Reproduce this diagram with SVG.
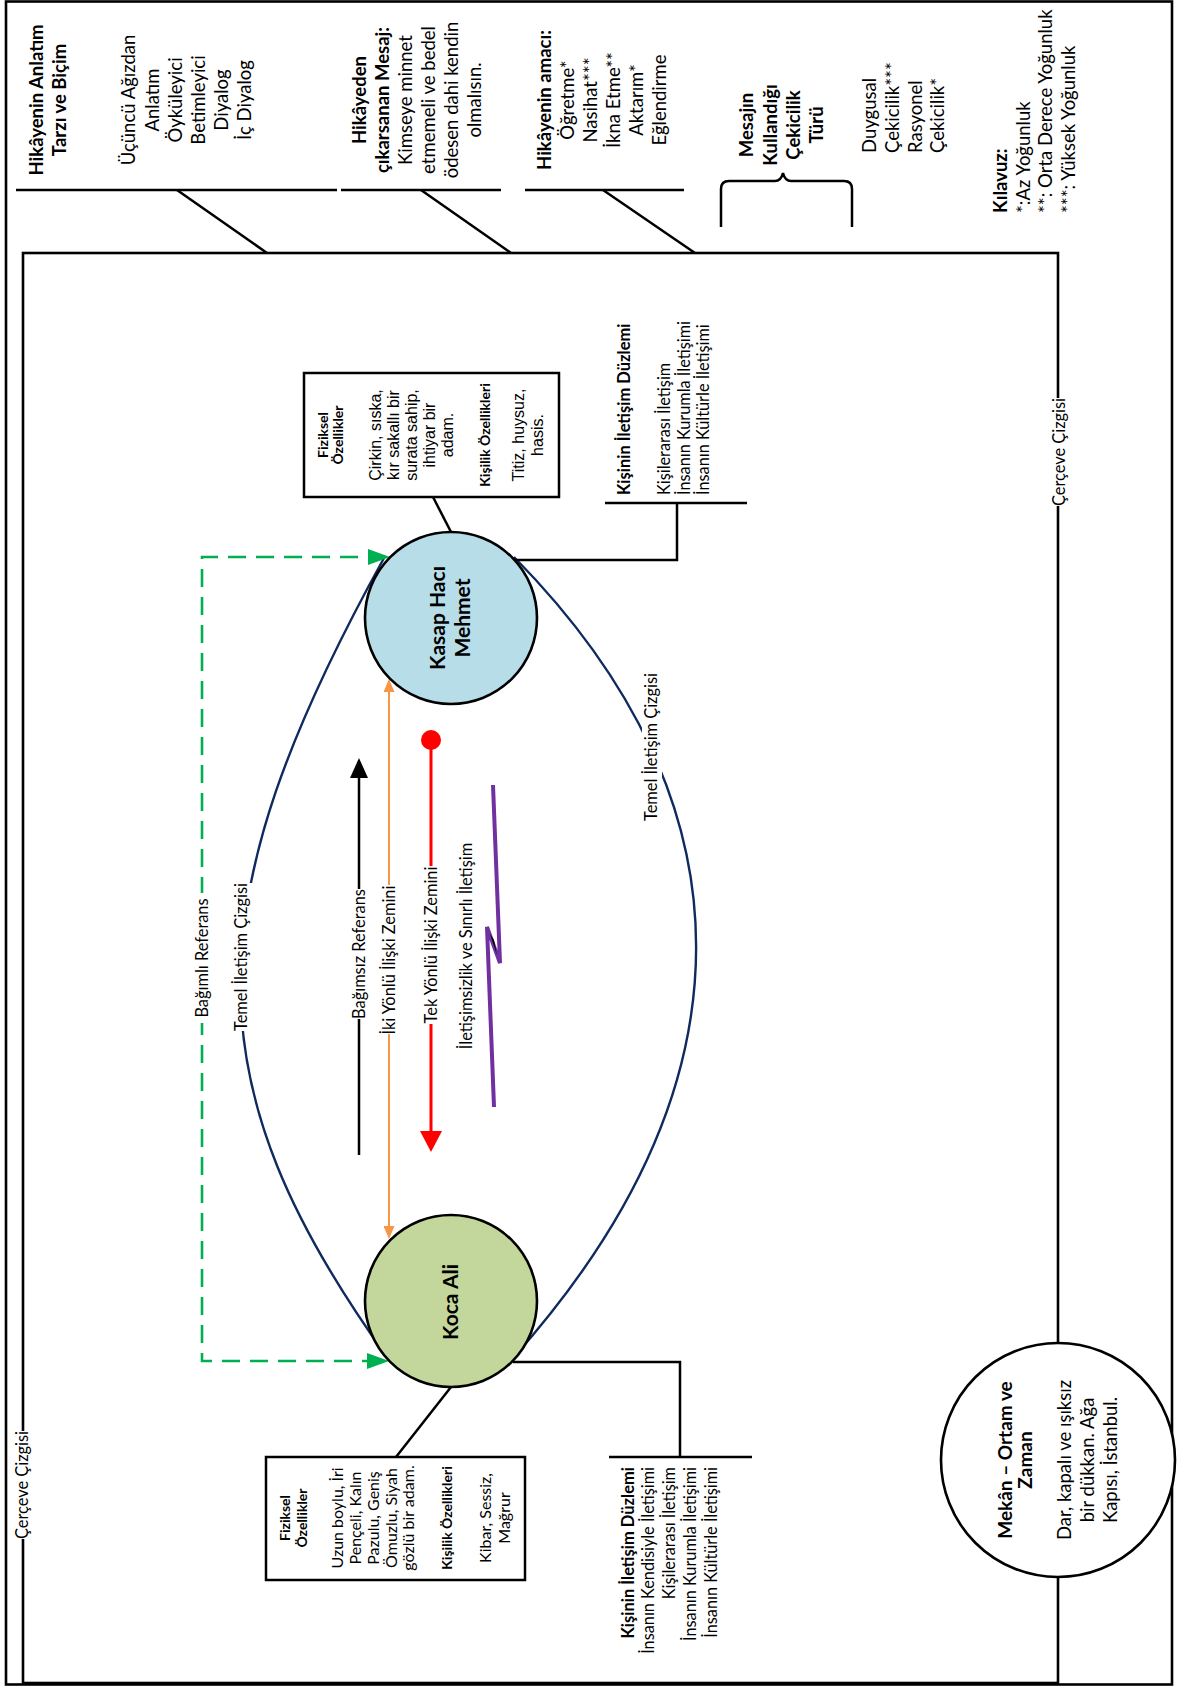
<svg xmlns="http://www.w3.org/2000/svg" width="1177" height="1686" viewBox="0 0 1177 1686">
  <style>
    text { font-family: Lato, "Liberation Sans", sans-serif; fill: #000; }
    .hb { font-size: 18.5px; font-weight: bold; }
    .hr { font-size: 18.5px; }
    .lbl { font-size: 16.4px; }
    .bh { font-size: 14px; font-weight: bold; }
    .ba { font-family: "Liberation Sans", Arial, sans-serif; font-size: 16px; }
    .bc { font-size: 16px; }
    .ph { font-size: 16.5px; font-weight: bold; }
    .pr { font-size: 16.3px; }
    .node-t { font-size: 21px; font-weight: bold; }
    .mh { font-size: 19px; font-weight: bold; }
    .line { fill: none; stroke: #000; stroke-width: 2.5; }
    .frame { fill: none; stroke: #000; stroke-width: 2.6; }
    .arc { fill: none; stroke: #0F2A5F; stroke-width: 2.4; }
    .knock { fill: #fff; }
    .circle { stroke: #000; stroke-width: 2.6; }
  </style>
  <defs>
    <marker id="headBlack" viewBox="0 0 20 18" refX="16" refY="9" markerWidth="20" markerHeight="18" markerUnits="userSpaceOnUse" orient="auto">
      <path d="M0,0 L20,9 L0,18 z" fill="#000"/>
    </marker>
    <marker id="headOrange" viewBox="0 0 13 11" refX="10" refY="5.5" markerWidth="13" markerHeight="11" markerUnits="userSpaceOnUse" orient="auto-start-reverse">
      <path d="M0,0 L13,5.5 L0,11 z" fill="#F79646"/>
    </marker>
    <marker id="headRed" viewBox="0 0 21 22" refX="17" refY="11" markerWidth="21" markerHeight="22" markerUnits="userSpaceOnUse" orient="auto">
      <path d="M0,0 L21,11 L0,22 z" fill="#FF0000"/>
    </marker>
    <marker id="dotRed" viewBox="0 0 22 22" refX="11" refY="11" markerWidth="22" markerHeight="22" markerUnits="userSpaceOnUse" orient="auto">
      <circle cx="11" cy="11" r="10" fill="#FF0000"/>
    </marker>
    <marker id="headGreen" viewBox="0 0 22 16" refX="18" refY="8" markerWidth="22" markerHeight="16" markerUnits="userSpaceOnUse" orient="auto-start-reverse">
      <path d="M0,0 L22,8 L0,16 z" fill="#00B050"/>
    </marker>
  </defs>

  <rect width="1177" height="1686" fill="#fff"/>

  <!-- page border and story frame -->
  <g id="frames">
    <rect class="frame" x="6" y="1.5" width="1166" height="1683"/>
    <rect class="frame" x="23" y="253" width="1035" height="1430"/>
  </g>

  <!-- header ribs feeding into the frame -->
  <g id="header-ribs">
    <path class="line" d="M16 190 H337 M341 190 H501 M525 190 H684"/>
    <path class="line" d="M177 190 L267 253 M421 190 L511 253 M603 190 L695 253"/>
    <path class="line" d="M721 227 V189 Q721 181 729 181 H775 Q781 181 783 173 Q785 181 791 181 H844 Q852 181 852 189 V227"/>
  </g>

  <!-- header texts -->
  <g id="header-style">
    <text class="hb" text-anchor="middle" transform="translate(43,100) rotate(-90)"><tspan x="0" y="0">Hikâyenin Anlatım</tspan><tspan x="0" y="23">Tarzı ve Biçim</tspan></text>
    <text class="hr" text-anchor="middle" transform="translate(135,100) rotate(-90)"><tspan x="0" y="0">Üçüncü Ağızdan</tspan><tspan x="0" y="23.5">Anlatım</tspan><tspan x="0" y="47">Öyküleyici</tspan><tspan x="0" y="70">Betimleyici</tspan><tspan x="0" y="93">Diyalog</tspan><tspan x="0" y="116">İç Diyalog</tspan></text>
  </g>
  <g id="header-message">
    <text class="hr" text-anchor="middle" transform="translate(366,100) rotate(-90)"><tspan x="0" y="0" font-weight="bold">Hikâyeden</tspan><tspan x="0" y="23" font-weight="bold">çıkarsanan Mesaj:</tspan><tspan x="0" y="45.5">Kimseye minnet</tspan><tspan x="0" y="68.5">etmemeli ve bedel</tspan><tspan x="0" y="91.5">ödesen dahi kendin</tspan><tspan x="0" y="114.5">olmalısın.</tspan></text>
  </g>
  <g id="header-purpose">
    <text class="hr" text-anchor="middle" transform="translate(551,100) rotate(-90)"><tspan x="0" y="0" font-weight="bold">Hikâyenin amacı:</tspan><tspan x="0" y="23">Öğretme*</tspan><tspan x="0" y="46">Nasihat***</tspan><tspan x="0" y="69">İkna Etme**</tspan><tspan x="0" y="92">Aktarım*</tspan><tspan x="0" y="115">Eğlendirme</tspan></text>
  </g>
  <g id="header-appeal">
    <text class="hb" text-anchor="middle" transform="translate(753,125) rotate(-90)"><tspan x="0" y="0">Mesajın</tspan><tspan x="0" y="23.5">Kullandığı</tspan><tspan x="0" y="46.5">Çekicilik</tspan><tspan x="0" y="69.5">Türü</tspan></text>
    <text class="hr" transform="translate(876,153) rotate(-90)"><tspan x="0" y="0">Duygusal</tspan><tspan x="0" y="22.5">Çekicilik***</tspan><tspan x="0" y="45.5">Rasyonel</tspan><tspan x="0" y="68">Çekicilik*</tspan></text>
  </g>
  <g id="legend">
    <text class="hr" transform="translate(1007,213) rotate(-90)"><tspan x="0" y="0" font-weight="bold">Kılavuz:</tspan><tspan x="0" y="22.5">*:Az Yoğunluk</tspan><tspan x="0" y="45">**: Orta Derece Yoğunluk</tspan><tspan x="0" y="68">***: Yüksek Yoğunluk</tspan></text>
  </g>

  <!-- connectors and their labels -->
  <g id="connectors">
    <path class="arc" d="M384 558 C192 905 192 1085 387 1357"/>
    <path class="arc" d="M514 557 C757 804 757 1084 513 1358"/>

    <path d="M386 557 H202 V1361 H385" fill="none" stroke="#00B050" stroke-width="2.6" stroke-dasharray="18 10" marker-start="url(#headGreen)" marker-end="url(#headGreen)"/>
    <path d="M359 1155 V762" fill="none" stroke="#000" stroke-width="2.5" marker-end="url(#headBlack)"/>
    <path d="M389 682 V1236" fill="none" stroke="#F79646" stroke-width="2" marker-start="url(#headOrange)" marker-end="url(#headOrange)"/>
    <path d="M431 740 V1148" fill="none" stroke="#FF0000" stroke-width="3" marker-start="url(#dotRed)" marker-end="url(#headRed)"/>
    <polyline points="493,785 500,963 487,927 494,1107" fill="none" stroke="#7030A0" stroke-width="4" stroke-linejoin="miter"/>
    <polygon points="490,934 497,955 494,940" fill="#000"/>

    <path class="line" d="M433 497 L451 532"/>
    <path class="line" d="M513 560 H677 V503 M605 503 H747"/>
    <path class="line" d="M396 1457 L451 1387"/>
    <path class="line" d="M513 1362 H680 V1457 M609 1457 H752"/>

    <rect class="knock" x="194" y="893" width="16" height="130"/>
    <rect class="knock" x="234" y="883" width="18" height="148"/>
    <rect class="knock" x="351" y="889" width="16" height="130"/>
    <rect class="knock" x="381" y="885" width="16" height="149"/>
    <rect class="knock" x="423" y="866" width="16" height="158"/>
    <rect class="knock" x="642" y="673" width="20" height="148"/>
    <rect class="knock" x="15" y="1431" width="16" height="108"/>
    <rect class="knock" x="1051" y="398" width="16" height="108"/>

    <text class="lbl" text-anchor="middle" transform="translate(208,958) rotate(-90)">Bağımlı Referans</text>
    <text class="lbl" text-anchor="middle" transform="translate(247,957) rotate(-90)">Temel İletişim Çizgisi</text>
    <text class="lbl" text-anchor="middle" transform="translate(365,954) rotate(-90)">Bağımsız Referans</text>
    <text class="lbl" text-anchor="middle" transform="translate(395,960) rotate(-90)">İki Yönlü İlişki Zemini</text>
    <text class="lbl" text-anchor="middle" transform="translate(437,945) rotate(-90)">Tek Yönlü İlişki Zemini</text>
    <text class="lbl" text-anchor="middle" transform="translate(472,946) rotate(-90)">İletişimsizlik ve Sınırlı İletişim</text>
    <text class="lbl" text-anchor="middle" transform="translate(657,747) rotate(-90)">Temel İletişim Çizgisi</text>
    <text class="lbl" text-anchor="middle" transform="translate(28,1485) rotate(-90)">Çerçeve Çizgisi</text>
    <text class="lbl" text-anchor="middle" transform="translate(1065,452) rotate(-90)">Çerçeve Çizgisi</text>
  </g>

  <!-- Kasap Hacı Mehmet -->
  <g id="node-kasap">
    <circle class="circle" cx="451" cy="618" r="86" fill="#B7DDE8"/>
    <text class="node-t" text-anchor="middle" transform="translate(445,618) rotate(-90)"><tspan x="0" y="0">Kasap Hacı</tspan><tspan x="0" y="25">Mehmet</tspan></text>
  </g>
  <g id="box-kasap">
    <rect class="line" x="304" y="373" width="255" height="124" fill="#fff"/>
    <text text-anchor="middle" transform="translate(328,435) rotate(-90)"><tspan class="bh" x="0" y="0">Fiziksel</tspan><tspan class="bh" x="0" y="15">Özellikler</tspan><tspan class="ba" x="0" y="53">Çirkin, sıska,</tspan><tspan class="ba" x="0" y="71">kır sakallı bir</tspan><tspan class="ba" x="0" y="89">surata sahip,</tspan><tspan class="ba" x="0" y="107">ihtiyar bir</tspan><tspan class="ba" x="0" y="125">adam.</tspan><tspan class="bh" x="0" y="162">Kişilik Özellikleri</tspan><tspan class="ba" x="0" y="196">Titiz, huysuz,</tspan><tspan class="ba" x="0" y="215">hasis.</tspan></text>
  </g>
  <g id="plane-kasap">
    <text transform="translate(630,495) rotate(-90)"><tspan class="ph" x="0" y="0">Kişinin İletişim Düzlemi</tspan><tspan class="pr" x="0" y="40">Kişilerarası İletişim</tspan><tspan class="pr" x="0" y="60">İnsanın Kurumla İletişimi</tspan><tspan class="pr" x="0" y="79">İnsanın Kültürle İletişimi</tspan></text>
  </g>

  <!-- Koca Ali -->
  <g id="node-koca">
    <circle class="circle" cx="451" cy="1301" r="86" fill="#C3D69B"/>
    <text class="node-t" text-anchor="middle" transform="translate(458,1302) rotate(-90)">Koca Ali</text>
  </g>
  <g id="box-koca">
    <rect class="line" x="266" y="1457" width="259" height="123" fill="#fff"/>
    <text text-anchor="middle" transform="translate(290,1518) rotate(-90)"><tspan class="bh" x="0" y="0">Fiziksel</tspan><tspan class="bh" x="0" y="17">Özellikler</tspan><tspan class="bc" x="0" y="53">Uzun boylu, İri</tspan><tspan class="bc" x="0" y="71">Pençeli, Kalın</tspan><tspan class="bc" x="0" y="89">Pazulu, Geniş</tspan><tspan class="bc" x="0" y="107">Ömuzlu, Siyah</tspan><tspan class="bc" x="0" y="124">gözlü bir adam.</tspan><tspan class="bh" x="0" y="162">Kişilik Özellikleri</tspan><tspan class="bc" x="0" y="201">Kibar, Sessiz,</tspan><tspan class="bc" x="0" y="220">Mağrur</tspan></text>
  </g>
  <g id="plane-koca">
    <text text-anchor="end" transform="translate(634,1467) rotate(-90)"><tspan class="ph" x="0" y="0">Kişinin İletişim Düzlemi</tspan><tspan class="pr" x="0" y="20">İnsanın Kendisiyle İletişimi</tspan><tspan class="pr" x="0" y="41">Kişilerarası İletişim</tspan><tspan class="pr" x="0" y="62">İnsanın Kurumla İletişimi</tspan><tspan class="pr" x="0" y="83">İnsanın Kültürle İletişimi</tspan></text>
  </g>

  <!-- setting: place and time -->
  <g id="node-mekan">
    <circle class="circle" cx="1058" cy="1460" r="117" fill="#fff"/>
    <text text-anchor="middle" transform="translate(1012,1460) rotate(-90)"><tspan class="mh" x="0" y="0">Mekân – Ortam ve</tspan><tspan class="mh" x="0" y="20">Zaman</tspan><tspan class="hr" x="0" y="59">Dar, kapalı ve ışıksız</tspan><tspan class="hr" x="0" y="82">bir dükkan. Ağa</tspan><tspan class="hr" x="0" y="105">Kapısı, İstanbul.</tspan></text>
  </g>
</svg>
